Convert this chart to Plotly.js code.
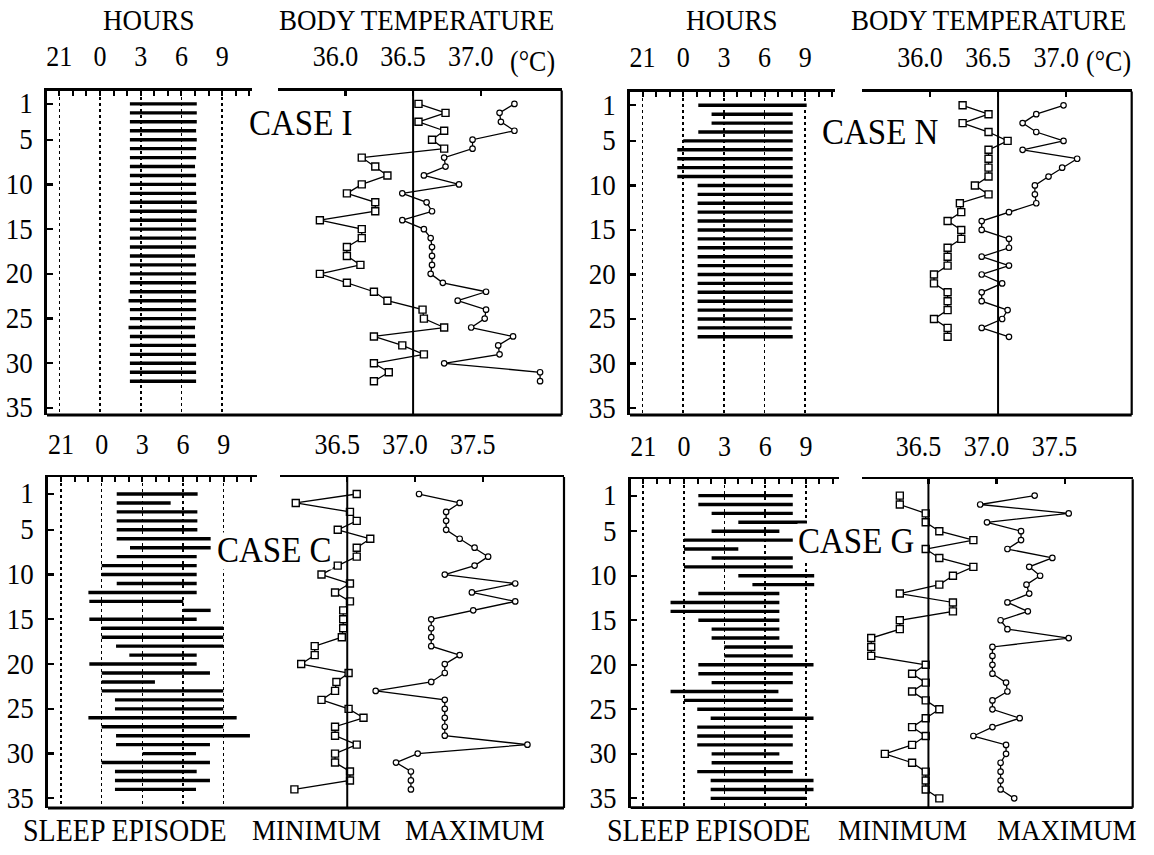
<!DOCTYPE html>
<html><head><meta charset="utf-8">
<script src="https://cdn.plot.ly/plotly-3.0.1.min.js"></script>
<style>html,body{margin:0;padding:0;background:#fff;}#chart{width:1154px;height:855px;}</style>
</head><body><div id="chart"></div>
<script>
// ---------------- DATA ----------------
// Hours are relative to midnight (negative = previous evening, e.g. -3 = 21:00)
const hourTickVals = [-3, 0, 3, 6, 9];
const hourTickText = ["21", "0", "3", "6", "9"];
const dayTickVals = [1, 5, 10, 15, 20, 25, 30, 35];
const tempTicksTop = [36.0, 36.5, 37.0];
const tempTicksTopText = ["36.0", "36.5", "37.0"];
const tempTicksBottom = [36.5, 37.0, 37.5];
const tempTicksBottomText = ["36.5", "37.0", "37.5"];
const referenceTemp = 36.5;

// CASE I
const daysI = [1,2,3,4,5,6,7,8,9,10,11,12,13,14,15,16,17,18,19,20,21,22,23,24,25,26,27,28,29,30,31,32];
const sleepStartI = [2.2,2.2,2.2,2.2,2.2,2.2,2.2,2.2,2.2,2.2,2.2,2.2,2.2,2.2,2.2,2.2,2.2,2.2,2.2,2.2,2.2,2.2,2.1,2.2,2.2,2.1,2.2,2.2,2.2,2.2,2.2,2.2];
const sleepEndI = [7.13,7.13,7.13,7.08,7.13,7.08,7.08,7.0,7.08,7.08,7.08,7.13,7.13,7.08,7.08,7.08,7.08,7.0,7.08,7.08,7.08,7.08,7.08,7.08,7.08,7.0,7.0,7.08,7.08,7.08,7.08,7.08];
const minTempI = [36.54,36.74,36.54,36.73,36.64,36.73,36.12,36.22,36.31,36.12,36.01,36.22,36.22,35.81,36.12,36.12,36.01,36.01,36.11,35.81,36.01,36.21,36.31,36.57,36.58,36.73,36.21,36.42,36.58,36.21,36.32,36.21];
const maxTempI = [37.25,37.14,37.15,37.25,36.94,36.94,36.73,36.74,36.58,36.84,36.42,36.60,36.64,36.42,36.58,36.63,36.64,36.64,36.64,36.63,36.72,37.04,36.83,37.04,37.03,36.93,37.24,37.13,37.14,36.73,37.44,37.44];

// CASE N
const daysN = [1,2,3,4,5,6,7,8,9,10,11,12,13,14,15,16,17,18,19,20,21,22,23,24,25,26,27];
const sleepStartN = [1.11,2.09,2.09,1.11,0.0,-0.44,-0.44,-0.44,-0.44,1.06,1.06,1.06,1.06,1.06,1.06,1.06,1.06,1.06,1.06,1.06,1.06,1.06,1.06,1.06,1.06,1.06,1.06];
const sleepEndN = [9.11,8.08,8.08,8.08,8.08,8.08,8.08,8.08,8.08,8.08,8.08,8.08,8.08,8.08,8.08,8.08,8.08,8.08,8.08,8.08,8.08,8.08,8.08,8.08,8.08,8.0,8.08];
const minTempN = [36.24,36.43,36.24,36.43,36.57,36.43,36.43,36.43,36.43,36.33,36.43,36.22,36.23,36.13,36.23,36.23,36.13,36.13,36.13,36.03,36.03,36.13,36.13,36.13,36.03,36.13,36.13];
const maxTempN = [36.98,36.78,36.68,36.78,36.98,36.68,37.08,36.97,36.87,36.77,36.77,36.78,36.58,36.38,36.38,36.58,36.58,36.38,36.58,36.38,36.53,36.38,36.38,36.57,36.53,36.38,36.58];

// CASE C
const daysC = [1,2,3,4,5,6,7,8,9,10,11,12,13,14,15,16,17,18,19,20,21,22,23,24,25,26,27,28,29,30,31,32,33,34];
const sleepStartC = [1.11,1.11,1.11,1.11,1.11,1.11,2.09,1.11,0,0,1.11,-0.98,-0.91,6.02,-0.91,0,0,1.06,2.04,-0.91,0,0,0,0.98,0.98,-0.98,0,1.06,1.06,3.02,0,0.98,0.98,0.98];
const sleepEndC = [7.08,5.09,7.06,7.06,7.06,8.04,8.04,7.01,7.01,7.01,7.01,7.01,6.02,8.04,7.01,8.97,8.97,8.97,7.01,7.01,7.99,3.93,8.97,8.97,8.97,9.96,8.97,10.94,7.99,6.96,7.99,7.01,7.99,6.96];
const minTempC = [36.57,36.12,36.52,36.57,36.43,36.67,36.57,36.57,36.43,36.31,36.52,36.41,36.52,36.47,36.47,36.47,36.46,36.26,36.26,36.16,36.51,36.42,36.41,36.31,36.51,36.62,36.41,36.41,36.57,36.41,36.41,36.52,36.52,36.11];
const maxTempC = [37.03,37.33,37.23,37.23,37.23,37.33,37.44,37.54,37.44,37.22,37.74,37.42,37.74,37.43,37.12,37.12,37.12,37.12,37.33,37.22,37.22,37.12,36.71,37.22,37.22,37.22,37.22,37.22,37.83,37.02,36.86,36.97,36.97,36.97];

// CASE G
const daysG = [1,2,3,4,5,6,7,8,9,10,11,12,13,14,15,16,17,18,19,20,21,22,23,24,25,26,27,28,29,30,31,32,33,34,35];
const sleepStartG = [1.06,1.06,2.04,4.01,2.04,0,0,2.04,0,4.01,5.05,1.06,-0.99,-0.99,1.06,2.04,2.04,2.98,2.98,1.06,1.06,2.04,-0.99,0,0.98,1.97,0.98,0.98,0.98,2.04,2.04,0.98,1.97,1.97,1.97];
const sleepEndG = [8.03,8.03,8.03,9.06,7.04,8.03,4.01,8.03,8.03,9.61,9.61,7.04,7.04,7.04,7.04,7.04,7.04,8.03,8.03,9.56,8.03,8.03,6.97,8.03,8.03,9.56,8.03,8.03,8.03,7.04,8.03,8.03,9.56,9.56,9.01];
const minTempG = [36.29,36.29,36.48,36.48,36.58,36.83,36.48,36.58,36.83,36.68,36.58,36.29,36.68,36.68,36.29,36.29,36.08,36.08,36.08,36.48,36.38,36.48,36.38,36.48,36.58,36.48,36.38,36.48,36.38,36.18,36.38,36.48,36.48,36.48,36.58];
const maxTempG = [37.28,36.88,37.53,36.93,37.18,37.18,37.08,37.41,37.24,37.32,37.22,37.24,37.08,37.23,37.03,37.08,37.53,36.97,36.97,36.97,36.97,37.07,37.08,36.97,36.97,37.17,36.97,36.83,37.07,37.07,37.03,37.03,37.03,37.03,37.13];

// ---------------- LAYOUT GEOMETRY (pixels) ----------------
const W = 1154, H = 855;
const FONT = "Liberation Serif";
const px = p => p / W;
const py = p => 1 - p / H;

const panels = [
  {days: daysI, s: sleepStartI, e: sleepEndI, tmin: minTempI, tmax: maxTempI,
   hx: [47, 252], hr: [-3.91, 11.2], tx: [278, 561.7], tr: [35.5, 37.6],
   yp: [90.5, 415], yr: [35.78, -0.5], tv: tempTicksTop, tt: tempTicksTopText, standoff: 12},
  {days: daysN, s: sleepStartN, e: sleepEndN, tmin: minTempN, tmax: maxTempN,
   hx: [630, 835], hr: [-3.93, 11.2], tx: [861.7, 1131.7], tr: [35.5, 37.48],
   yp: [91.5, 415], yr: [35.78, -0.55], tv: tempTicksTop, tt: tempTicksTopText, standoff: 12},
  {days: daysC, s: sleepStartC, e: sleepEndC, tmin: minTempC, tmax: maxTempC,
   hx: [48, 257], hr: [-3.96, 11.46], tx: [279.5, 564], tr: [36.0, 38.1],
   yp: [477, 808], yr: [36.08, -0.9], tv: tempTicksBottom, tt: tempTicksBottomText, standoff: 10},
  {days: daysG, s: sleepStartG, e: sleepEndG, tmin: minTempG, tmax: maxTempG,
   hx: [630.7, 839], hr: [-3.93, 11.44], tx: [861.7, 1132.7], tr: [36.01, 38.0],
   yp: [479.3, 807.7], yr: [36.05, -0.83], tv: tempTicksBottom, tt: tempTicksBottomText, standoff: 10}
];

const traces = [];
const layout = {
  width: W, height: H, autosize: false,
  margin: {l: 0, r: 0, t: 0, b: 0, pad: 0},
  paper_bgcolor: "white", plot_bgcolor: "rgba(0,0,0,0)",
  showlegend: false,
  font: {family: FONT, color: "black", size: 26},
  shapes: [], annotations: []
};

panels.forEach((p, i) => {
  const hId = 2 * i + 1, tId = 2 * i + 2, yId = i + 1;
  const hKey = hId === 1 ? "xaxis" : "xaxis" + hId;
  const tKey = "xaxis" + tId;
  const yKey = yId === 1 ? "yaxis" : "yaxis" + yId;
  const hRef = hId === 1 ? "x" : "x" + hId;
  const tRef = "x" + tId;
  const yRef = yId === 1 ? "y" : "y" + yId;

  // Sleep episodes: one segment per day
  const sx = [], sy = [];
  p.days.forEach((d, j) => { sx.push(p.s[j], p.e[j], null); sy.push(d, d, null); });
  traces.push({type: "scatter", mode: "lines", x: sx, y: sy, xaxis: hRef, yaxis: yRef,
    line: {color: "black", width: 3.4}, connectgaps: false, hoverinfo: "skip"});
  // Minimum temperature
  traces.push({type: "scatter", mode: "lines+markers", x: p.tmin, y: p.days, xaxis: tRef, yaxis: yRef,
    line: {color: "black", width: 1.3},
    marker: {symbol: "square", size: 7, color: "white", line: {color: "black", width: 1.4}}, hoverinfo: "skip"});
  // Maximum temperature
  traces.push({type: "scatter", mode: "lines+markers", x: p.tmax, y: p.days, xaxis: tRef, yaxis: yRef,
    line: {color: "black", width: 1.3},
    marker: {symbol: "circle", size: 5.5, color: "white", line: {color: "black", width: 1.2}}, hoverinfo: "skip"});

  layout[hKey] = {
    domain: [px(p.hx[0]), px(p.hx[1])], range: p.hr, anchor: yRef, side: "top",
    tickmode: "array", tickvals: hourTickVals, ticktext: hourTickText,
    ticks: "inside", ticklen: 5, tickwidth: 2, tickcolor: "black",
    ticklabelstandoff: p.standoff,
    minor: {tickmode: "linear", tick0: 0, dtick: 1, ticks: "inside", ticklen: 5, tickwidth: 2, tickcolor: "black", showgrid: false},
    showline: true, linecolor: "black", linewidth: 2.5,
    showgrid: true, gridcolor: "black", griddash: "dot", gridwidth: 1.6,
    zeroline: false, fixedrange: true,
    tickfont: {family: FONT, size: 26, color: "black"}
  };
  layout[tKey] = {
    domain: [px(p.tx[0]), px(p.tx[1])], range: p.tr, anchor: yRef, side: "top",
    tickmode: "array", tickvals: p.tv, ticktext: p.tt,
    ticks: "inside", ticklen: 5, tickwidth: 2.2, tickcolor: "black",
    ticklabelstandoff: p.standoff, ticklabelshift: -10,
    showline: true, linecolor: "black", linewidth: 2.5,
    showgrid: false, zeroline: false, fixedrange: true,
    tickfont: {family: FONT, size: 26, color: "black"}
  };
  layout[yKey] = {
    domain: [py(p.yp[1]), py(p.yp[0])], range: p.yr, anchor: hRef, side: "left",
    tickmode: "array", tickvals: dayTickVals,
    ticks: "inside", ticklen: 6, tickwidth: 2.2, tickcolor: "black",
    ticklabelstandoff: 6,
    showline: true, linecolor: "black", linewidth: 2.8,
    showgrid: false, zeroline: false, fixedrange: true,
    tickfont: {family: FONT, size: 27, color: "black"}
  };

  // Reference line at 36.5 °C
  layout.shapes.push({type: "line", xref: tRef, x0: referenceTemp, x1: referenceTemp,
    yref: yRef + " domain", y0: 0, y1: 1, line: {color: "black", width: 2}});
  // Bottom frame line
  layout.shapes.push({type: "line", xref: "paper", yref: "paper",
    x0: px(p.hx[0]), x1: px(p.tx[1]), y0: py(p.yp[1]), y1: py(p.yp[1]),
    line: {color: "black", width: 2.8}});
  // Right frame line
  layout.shapes.push({type: "line", xref: "paper", yref: "paper",
    x0: px(p.tx[1]), x1: px(p.tx[1]), y0: py(p.yp[1]), y1: py(p.yp[0]),
    line: {color: "black", width: 2.2}});
});

function addText(text, x, y, size, bg) {
  layout.annotations.push({text: text, xref: "paper", yref: "paper", x: px(x), y: py(y),
    xanchor: "center", yanchor: "middle", showarrow: false, borderpad: 0,
    bgcolor: bg ? "white" : "rgba(0,0,0,0)",
    font: {family: FONT, size: size, color: "black"}});
}
addText("HOURS", 149, 21, 27);
addText("HOURS", 732, 21, 27);
addText("BODY TEMPERATURE", 416, 21, 27);
addText("BODY TEMPERATURE", 988, 21, 27);
addText("(°C)", 532, 62, 26);
addText("(°C)", 1108, 62, 26);
addText("CASE I", 301, 124, 33, true);
addText("CASE N", 880, 133, 33, true);
addText("CASE C", 274, 551, 33, true);
addText("CASE G", 856, 542, 33, true);
addText("SLEEP EPISODE", 125, 831, 28);
addText("MINIMUM", 316, 831, 27);
addText("MAXIMUM", 475, 831, 27);
addText("SLEEP EPISODE", 709, 831, 28);
addText("MINIMUM", 902, 831, 27);
addText("MAXIMUM", 1067, 831, 27);

Plotly.newPlot("chart", traces, layout, {staticPlot: true, displayModeBar: false}).then(gd => {
  // Mimic the tall typeface of the original scan: stretch text slightly about its baseline
  const S = 1.1;
  gd.querySelectorAll("svg text").forEach(t => {
    const y = parseFloat(t.getAttribute("y")) || 0;
    const prev = t.getAttribute("transform") || "";
    t.setAttribute("transform", prev + " translate(0," + y + ") scale(1," + S + ") translate(0," + (-y) + ")");
  });
});
</script></body></html>
